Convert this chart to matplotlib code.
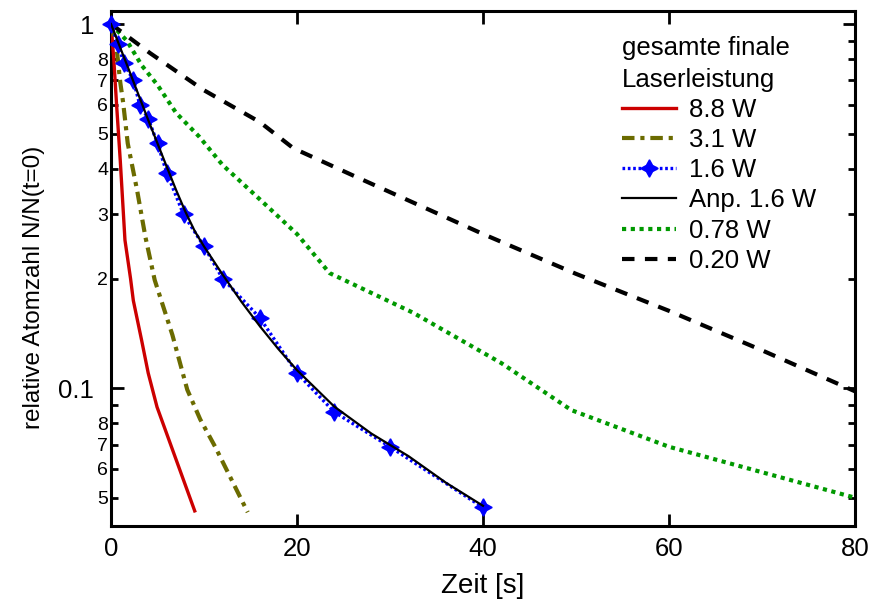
import matplotlib
matplotlib.use("Agg")
import matplotlib.pyplot as plt
from matplotlib.ticker import FixedLocator, FixedFormatter

plt.rcParams["font.family"] = ["Liberation Sans", "DejaVu Sans"]

# Zeit [s] und relative Atomzahl
t_88 = [0, 0.3, 0.6, 1.0, 1.5, 2.1, 2.4, 3.3, 4.0, 4.95, 9.0]
n_88 = [1.0, 0.8, 0.6, 0.42, 0.255, 0.2, 0.174, 0.135, 0.11, 0.0887, 0.046]

t_31 = [0, 0.6, 1.0, 1.3, 1.8, 2.8, 3.7, 4.7, 6.6, 8.2, 9.6, 11.2, 14.7]
n_31 = [1.0, 0.86, 0.69, 0.61, 0.47, 0.35, 0.26, 0.198, 0.14, 0.099, 0.082, 0.069, 0.0456]

t_16 = [0, 0.75, 1.4, 2.4, 3.1, 4, 5, 6, 7.8, 10, 12, 16, 20, 24, 30, 40]
n_16 = [1.0, 0.88, 0.78, 0.70, 0.60, 0.55, 0.47, 0.39, 0.30, 0.245, 0.20, 0.156, 0.11, 0.086, 0.069, 0.047]

t_fit = [0, 1, 2, 3, 4, 5, 6, 7, 8, 9, 10, 12, 14, 16, 18, 20, 24, 28, 32, 36, 40]
n_fit = [1.0, 0.86, 0.74, 0.635, 0.545, 0.47, 0.405, 0.35, 0.305, 0.27, 0.245, 0.205, 0.173,
         0.148, 0.128, 0.112, 0.089, 0.075, 0.065, 0.055, 0.0475]

t_078 = [0, 1.7, 3.3, 5, 7, 9.5, 12, 16, 20, 23.5, 32.5, 42, 49.5, 60, 80]
n_078 = [1.0, 0.9, 0.77, 0.68, 0.57, 0.49, 0.41, 0.33, 0.265, 0.207, 0.161, 0.117, 0.087, 0.069, 0.05]

t_020 = [0, 4.2, 9.9, 16, 19.6, 25.9, 40, 50, 60, 70, 80]
n_020 = [1.0, 0.832, 0.66, 0.538, 0.456, 0.385, 0.265, 0.206, 0.163, 0.127, 0.098]

labels = ["8.8 W", "3.1 W", "1.6 W", "Anp. 1.6 W", "0.78 W", "0.20 W"]

x_ticks = [0, 20, 40, 60, 80]
y_major = [0.1, 1]
y_major_labels = ["0.1", "1"]
y_minor = [0.05, 0.06, 0.07, 0.08, 0.09, 0.2, 0.3, 0.4, 0.5, 0.6, 0.7, 0.8, 0.9]
y_minor_labels = ["5", "6", "7", "8", "", "2", "3", "4", "5", "6", "7", "8", ""]

fig = plt.figure(figsize=(8.72, 6.07), dpi=100)
ax = fig.add_axes([0.1273, 0.1334, 0.8532, 0.8485])

ax.plot(t_88, n_88, color="#cc0000", lw=2.4, label=labels[0], zorder=3)
ax.plot(t_31, n_31, color="#6b6b00", lw=3, dashes=(3, 1.4, 1, 1.4), label=labels[1], zorder=3)
ax.plot(t_16, n_16, color="#0000ff", lw=2.4, dashes=(0.8, 0.8), marker=(4, 1, 0),
        markersize=12.5, markeredgecolor="#0000ff", label=labels[2], zorder=4, clip_on=False)
ax.plot(t_fit, n_fit, color="black", lw=1.6, label=labels[3], zorder=5)
ax.plot(t_078, n_078, color="#009900", lw=3, dashes=(1, 1.1), label=labels[4], zorder=3)
ax.plot(t_020, n_020, color="black", lw=3, dashes=(3, 2.5), label=labels[5], zorder=3)

ax.set_yscale("log")
ax.set_xlim(0, 80)
ax.set_ylim(0.0418, 1.086)

ax.set_xticks(x_ticks)
ax.yaxis.set_major_locator(FixedLocator(y_major))
ax.yaxis.set_major_formatter(FixedFormatter(y_major_labels))
ax.yaxis.set_minor_locator(FixedLocator(y_minor))
ax.yaxis.set_minor_formatter(FixedFormatter(y_minor_labels))

ax.tick_params(axis="both", which="major", direction="in", length=9, width=2,
               labelsize=18.5, top=True, right=True)
ax.tick_params(axis="y", which="major", pad=12)
ax.tick_params(axis="x", which="major", pad=8)
ax.tick_params(axis="y", which="minor", direction="in", length=5, width=2,
               labelsize=14, pad=2, right=True)
for s in ax.spines.values():
    s.set_linewidth(2.2)

ax.set_xlabel("Zeit [s]", fontsize=20)
ax.set_ylabel("relative Atomzahl N/N(t=0)", fontsize=17.5)
ax.xaxis.set_label_coords(0.5, -0.091)
ax.yaxis.set_label_coords(-0.089, 0.464)

leg = ax.legend(title="gesamte finale\nLaserleistung", loc="upper left",
                bbox_to_anchor=(0.687, 0.951), frameon=False, fontsize=18.5,
                title_fontsize=18.5, borderpad=0, borderaxespad=0,
                handlelength=2.1, handletextpad=0.5, labelspacing=0.24,
                alignment="left")
leg.get_title().set_linespacing(1.4)

fig.savefig("out.png", dpi=100)
